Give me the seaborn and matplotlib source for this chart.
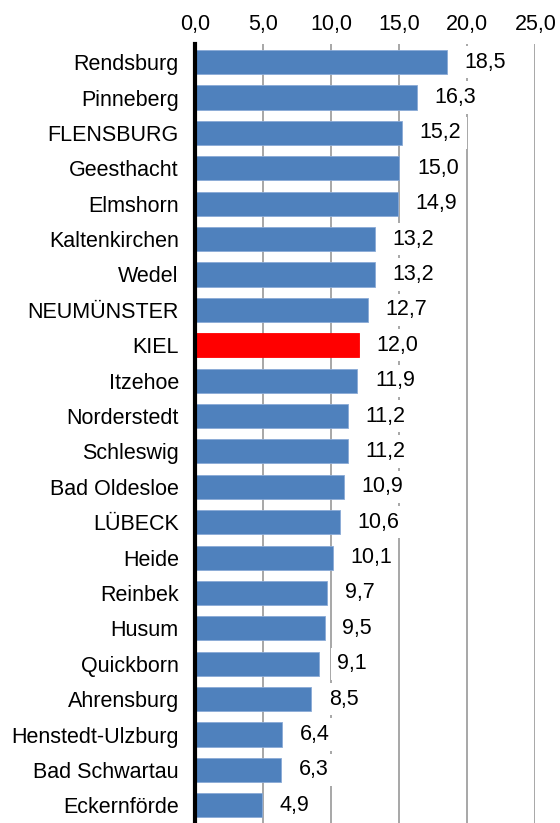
import matplotlib
matplotlib.use("Agg")
import matplotlib.pyplot as plt
import seaborn as sns
import pandas as pd

# Data
staedte = ["Rendsburg", "Pinneberg", "FLENSBURG", "Geesthacht", "Elmshorn",
           "Kaltenkirchen", "Wedel", "NEUMÜNSTER", "KIEL", "Itzehoe",
           "Norderstedt", "Schleswig", "Bad Oldesloe", "LÜBECK", "Heide",
           "Reinbek", "Husum", "Quickborn", "Ahrensburg", "Henstedt-Ulzburg",
           "Bad Schwartau", "Eckernförde"]
werte = [18.5, 16.3, 15.2, 15.0, 14.9, 13.2, 13.2, 12.7, 12.0, 11.9,
         11.2, 11.2, 10.9, 10.6, 10.1, 9.7, 9.5, 9.1, 8.5, 6.4, 6.3, 4.9]
highlight = "KIEL"

df = pd.DataFrame({"Stadt": staedte, "Wert": werte})
farben = ["#FF0000" if s == highlight else "#4F81BD" for s in staedte]

sns.set_theme(style="white")
plt.rcParams["font.family"] = ["Liberation Sans", "DejaVu Sans"]
plt.rcParams["text.color"] = "black"
plt.rcParams["xtick.color"] = "black"
plt.rcParams["ytick.color"] = "black"

fig = plt.figure(figsize=(5.6, 8.23), dpi=100)
ax = fig.add_axes([0.349, 0.0, 0.607, 0.946])

sns.barplot(data=df, x="Wert", y="Stadt", hue="Stadt", palette=farben,
            saturation=1, legend=False, width=0.68, edgecolor="#8AAAD6",
            linewidth=0.6, ax=ax, zorder=2)
for p, c in zip(ax.patches, farben):
    if c == "#FF0000":
        p.set_edgecolor("#FF0000")

fs = 15.5
ax.set_xlim(0, 25)
ax.set_xticks([0, 5, 10, 15, 20, 25])
ax.set_xticklabels([f"{t:.1f}".replace(".", ",") for t in [0, 5, 10, 15, 20, 25]],
                   fontsize=fs)
ax.xaxis.tick_top()
ax.tick_params(axis="x", length=0, pad=7)
ax.tick_params(axis="y", length=0, pad=12, labelsize=fs)
ax.set_xlabel("")
ax.set_ylabel("")

ax.grid(axis="x", color="#A0A0A0", linewidth=1.3, zorder=0)
ax.set_axisbelow(True)
for s in ["top", "right", "bottom"]:
    ax.spines[s].set_visible(False)
ax.spines["left"].set_color("black")
ax.spines["left"].set_linewidth(3)

for i, v in enumerate(werte):
    ax.text(v + 1.3, i, f"{v:.1f}".replace(".", ","), va="center", ha="left",
            fontsize=fs, color="black", zorder=3,
            bbox=dict(facecolor="white", edgecolor="none", pad=4))

fig.savefig("out.png", dpi=100)
